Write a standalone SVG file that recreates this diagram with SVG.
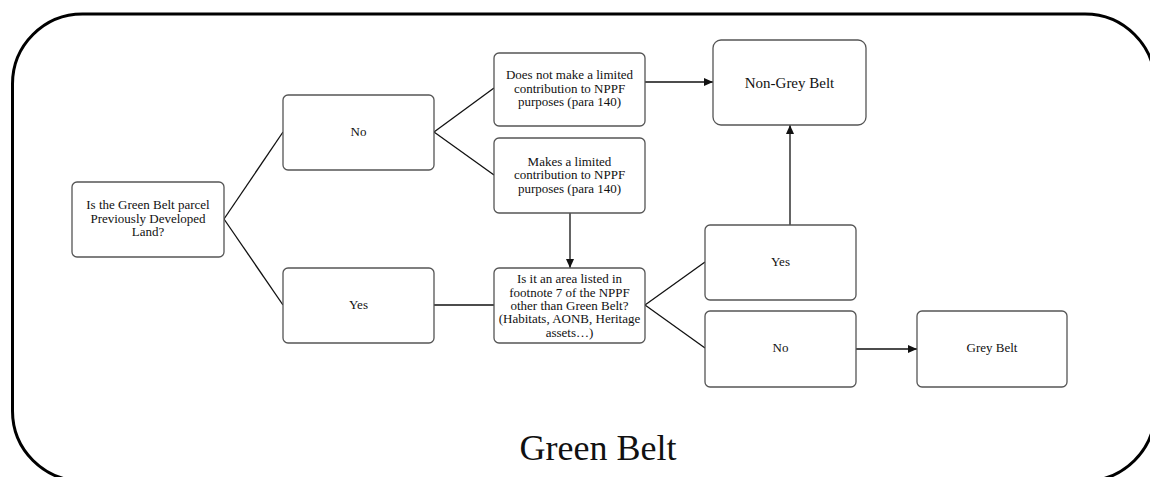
<svg xmlns="http://www.w3.org/2000/svg" width="1150" height="477" viewBox="0 0 1150 477">
<style>
.box{fill:#fff;stroke:#555;stroke-width:1.3}
.t{font-family:"Liberation Serif","Times New Roman",serif;font-size:13px;fill:#111;text-anchor:middle}
.c{fill:none;stroke:#111;stroke-width:1.3}
</style>
<defs>
<marker id="arr" markerUnits="userSpaceOnUse" markerWidth="9" markerHeight="8" refX="9" refY="4" viewBox="0 0 9 8" orient="auto">
<path d="M0,0 L9,4 L0,8 z" fill="#111"/>
</marker>
</defs>
<rect width="1150" height="477" fill="#fff"/>
<g id="frame">
<rect x="12.5" y="14" width="1142.5" height="467" rx="70" ry="70" fill="none" stroke="#000" stroke-width="3"/>
<text x="598" y="460" style="font-family:'Liberation Serif','Times New Roman',serif;font-size:36px;fill:#111;text-anchor:middle">Green Belt</text>
</g>
<g id="connectors">
<path class="c" d="M224,219 L283,132"/>
<path class="c" d="M224,219 L283,305"/>
<path class="c" d="M434,132 L494,88"/>
<path class="c" d="M434,132 L494,175"/>
<path class="c" d="M434,305 L494,305"/>
<path class="c" d="M645,82 L713,82" marker-end="url(#arr)"/>
<path class="c" d="M570,213 L570,268" marker-end="url(#arr)"/>
<path class="c" d="M645,305 L705,262"/>
<path class="c" d="M645,305 L705,348"/>
<path class="c" d="M790,225 L790,125" marker-end="url(#arr)"/>
<path class="c" d="M856,349 L917,349" marker-end="url(#arr)"/>
</g>
<g id="q1">
<rect class="box" x="72" y="182" width="152" height="75" rx="5"/>
<text class="t" x="148" y="209">Is the Green Belt parcel</text>
<text class="t" x="148" y="222.5">Previously Developed</text>
<text class="t" x="148" y="236">Land?</text>
</g>
<g id="no1">
<rect class="box" x="283" y="95" width="151" height="75" rx="5"/>
<text class="t" x="358.5" y="136">No</text>
</g>
<g id="yes1">
<rect class="box" x="283" y="268" width="151" height="75" rx="5"/>
<text class="t" x="358.5" y="309">Yes</text>
</g>
<g id="notlimited">
<rect class="box" x="494" y="53" width="151" height="73" rx="5"/>
<text class="t" x="569.5" y="79">Does not make a limited</text>
<text class="t" x="569.5" y="92.5">contribution to NPPF</text>
<text class="t" x="569.5" y="106">purposes (para 140)</text>
</g>
<g id="limited">
<rect class="box" x="494" y="138" width="151" height="75" rx="5"/>
<text class="t" x="569.5" y="165.5">Makes a limited</text>
<text class="t" x="569.5" y="179">contribution to NPPF</text>
<text class="t" x="569.5" y="192.5">purposes (para 140)</text>
</g>
<g id="footnote7">
<rect class="box" x="494" y="268" width="151" height="75" rx="5"/>
<text class="t" x="569.5" y="283">Is it an area listed in</text>
<text class="t" x="569.5" y="296.5">footnote 7 of the NPPF</text>
<text class="t" x="569.5" y="310">other than Green Belt?</text>
<text class="t" x="569.5" y="323">(Habitats, AONB, Heritage</text>
<text class="t" x="569.5" y="336.5">assets…)</text>
</g>
<g id="nongrey">
<rect class="box" x="713" y="40" width="153" height="85" rx="8"/>
<text class="t" x="789.5" y="88" style="font-size:15px">Non-Grey Belt</text>
</g>
<g id="yes2">
<rect class="box" x="705" y="225" width="151" height="75" rx="5"/>
<text class="t" x="780.5" y="266">Yes</text>
</g>
<g id="no2">
<rect class="box" x="705" y="311" width="151" height="76" rx="5"/>
<text class="t" x="780.5" y="352">No</text>
</g>
<g id="grey">
<rect class="box" x="917" y="311" width="150" height="76" rx="5"/>
<text class="t" x="992" y="352">Grey Belt</text>
</g>
</svg>
